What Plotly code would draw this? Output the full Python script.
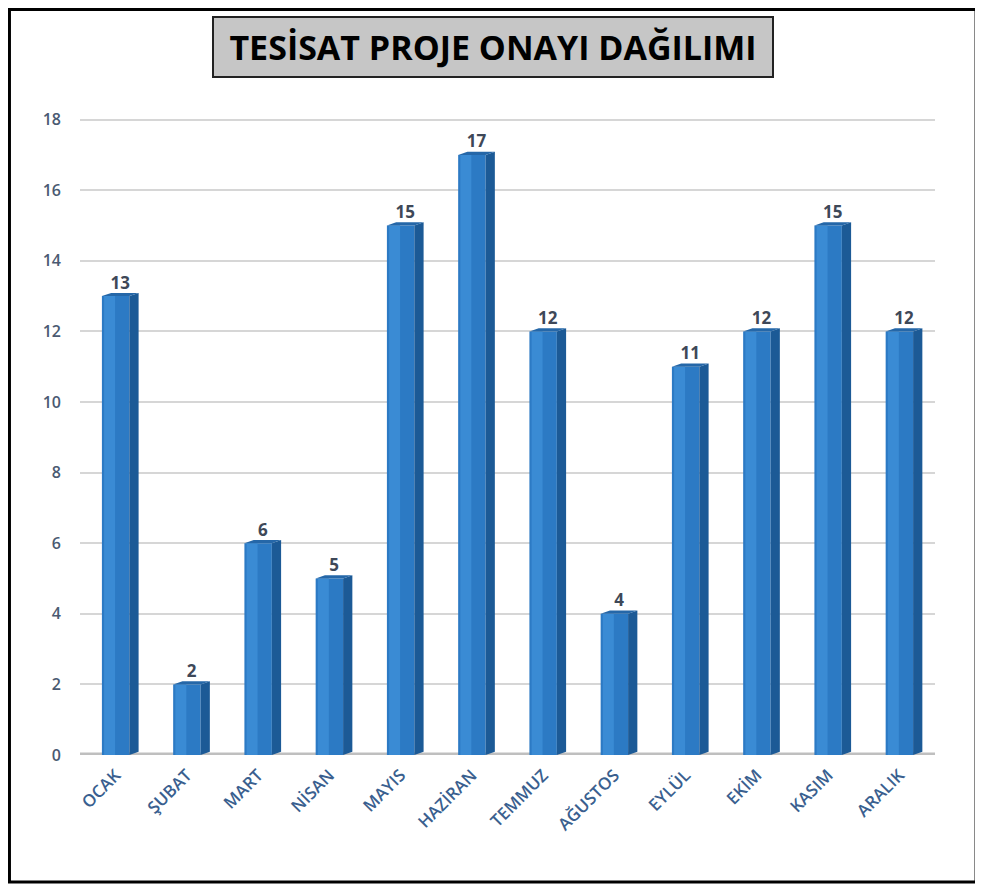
import plotly.graph_objects as go

months = ["OCAK", "ŞUBAT", "MART", "NİSAN", "MAYIS", "HAZİRAN", "TEMMUZ",
          "AĞUSTOS", "EYLÜL", "EKİM", "KASIM", "ARALIK"]
values = [13, 2, 6, 5, 15, 17, 12, 4, 11, 12, 15, 12]
y_ticks = [0, 2, 4, 6, 8, 10, 12, 14, 16, 18]
title_text = "TESİSAT PROJE ONAYI DAĞILIMI"

W = 0.385   # front face width (category units)
D = 0.13    # side depth
DY = 0.09   # vertical offset of depth

xs = list(range(len(months)))
fig = go.Figure()

# front faces
fig.add_trace(go.Bar(
    x=xs, y=values, width=W,
    marker=dict(color="#2c7ac4", line=dict(width=0)),
    hoverinfo="skip", showlegend=False))

# highlight strip on left part of the front face
fig.add_trace(go.Bar(
    x=[x - W * 0.22 for x in xs], y=values, width=W * 0.4,
    marker=dict(color="#3a8bd4", line=dict(width=0)),
    hoverinfo="skip", showlegend=False))

# side and top faces
for x, v in zip(xs, values):
    r = x + W / 2
    l = x - W / 2
    fig.add_trace(go.Scatter(
        x=[r, r + D, r + D, r, r], y=[0, DY, v + DY, v, 0],
        mode="lines", fill="toself", fillcolor="#1c5a96",
        line=dict(width=0, color="#1c5a96"), hoverinfo="skip", showlegend=False))
    fig.add_trace(go.Scatter(
        x=[l, r, r + D, l + D, l], y=[v, v, v + DY, v + DY, v],
        mode="lines", fill="toself", fillcolor="#2567a8",
        line=dict(width=0, color="#2567a8"), hoverinfo="skip", showlegend=False))

# value labels
fig.add_trace(go.Scatter(
    x=[x + D / 2 for x in xs], y=[v + DY for v in values],
    mode="text", text=[str(v) for v in values], textposition="top center",
    textfont=dict(family="Open Sans", size=17, color="#3e4858", weight="bold"),
    hoverinfo="skip", showlegend=False))

fig.update_layout(
    width=975, height=879,
    paper_bgcolor="white", plot_bgcolor="white",
    margin=dict(l=72, r=48, t=101, b=132),
    barmode="overlay",
    xaxis=dict(
        range=[-0.5, 11.5], tickmode="array", tickvals=xs, ticktext=months,
        tickangle=-45, showgrid=False, zeroline=False, showline=False,
        tickfont=dict(family="Open Sans", size=17, color="#3a5f8f", weight=600),
        ticks="", ticklabelstandoff=6),
    yaxis=dict(
        range=[0, 18.3], tickmode="array", tickvals=y_ticks,
        showgrid=True, gridcolor="#d6d6d6", gridwidth=1.5, zeroline=False,
        showline=False, ticks="", ticklabelstandoff=18,
        tickfont=dict(family="Open Sans", size=16, color="#4a5a72", weight=600)),
    shapes=[
        dict(type="line", xref="paper", yref="y", x0=0, x1=1, y0=0, y1=0,
             line=dict(color="#bfbfbf", width=5), layer="below"),
        dict(type="rect", xref="paper", yref="paper",
             x0=-0.0825, x1=1.048, y0=-0.1966, y1=1.154,
             line=dict(color="black", width=3)),
    ],
    annotations=[
        dict(text="<b>" + title_text + "</b>", xref="paper", yref="paper",
             x=0.483, y=1.096, xanchor="center", yanchor="middle",
             showarrow=False, width=556, height=56,
             bgcolor="#c6c6c6", bordercolor="#222222", borderwidth=2,
             font=dict(family="Open Sans", size=34, color="black")),
    ],
)

fig.write_html("out.html")
